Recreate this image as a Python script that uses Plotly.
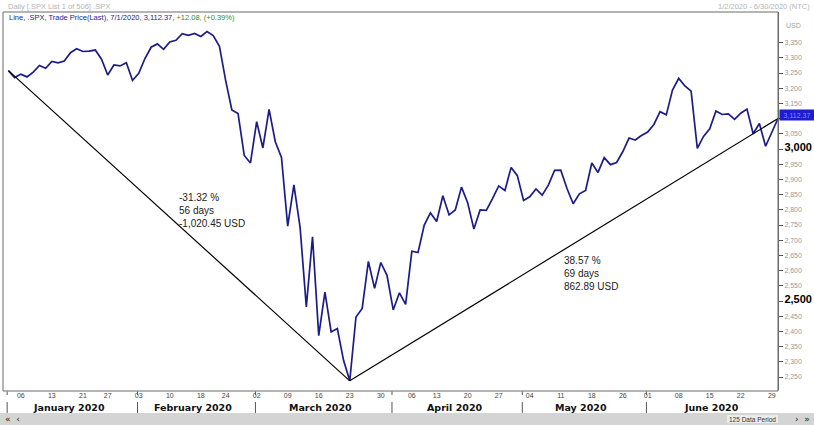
import numpy as np
import pandas as pd
import plotly.graph_objects as go

# ---------------- data ----------------
holidays = ["2020-01-20", "2020-02-17", "2020-04-10", "2020-05-25"]
dates = [d for d in pd.bdate_range("2020-01-02", "2020-06-30") if d.strftime("%Y-%m-%d") not in holidays]

jan_close = [3257.85, 3234.85, 3246.28, 3237.18, 3253.05, 3274.70, 3265.35, 3288.13, 3283.15, 3289.29,
             3316.81, 3329.62, 3320.79, 3321.75, 3325.54, 3295.47, 3243.63, 3276.24, 3273.40, 3283.66,
             3225.52]
feb_close = [3248.92, 3297.59, 3334.69, 3345.78, 3327.71, 3352.09, 3357.75, 3379.45, 3373.94, 3380.16,
             3370.29, 3386.15, 3373.23, 3337.75, 3225.89, 3128.21, 3116.39, 2978.76, 2954.22]
mar_close = [3090.23, 3003.37, 3130.12, 3023.94, 2972.37, 2746.56, 2882.23, 2741.38, 2480.64, 2711.02,
             2386.13, 2529.19, 2398.10, 2409.39, 2304.92, 2237.40, 2447.33, 2475.56, 2630.07, 2541.47,
             2626.65, 2584.59]
apr_close = [2470.50, 2526.90, 2488.65, 2663.68, 2659.41, 2749.98, 2789.82, 2761.63, 2846.06, 2783.36,
             2799.55, 2874.56, 2823.16, 2736.56, 2799.31, 2797.80, 2836.74, 2878.48, 2863.39, 2939.51,
             2912.43]
may_close = [2830.71, 2842.74, 2868.44, 2848.42, 2881.19, 2929.80, 2930.32, 2870.12, 2820.00, 2852.50,
             2863.70, 2953.91, 2922.94, 2971.61, 2948.51, 2955.45, 2991.77, 3036.13, 3029.73, 3044.31]
jun_close = [3055.73, 3080.82, 3122.87, 3112.35, 3193.93, 3232.39, 3207.18, 3190.14, 3002.10, 3041.31,
             3066.59, 3124.74, 3113.49, 3115.34, 3097.74, 3117.86, 3131.29, 3050.33, 3083.76, 3009.05,
             3053.24, 3100.29]
closes = jan_close + feb_close + mar_close + apr_close + may_close + jun_close

last_price = 3112.37
last_price_text = "3,112.37"
month_names = ["January 2020", "February 2020", "March 2020", "April 2020", "May 2020", "June 2020"]
y_tick_vals = list(range(2250, 3351, 50))
bold_ticks = [3000, 2500]
hidden_ticks = [3100]  # covered by the last-price marker
drop_text = "-31.32 %<br>56 days<br>-1,020.45 USD"
rise_text = "38.57 %<br>69 days<br>862.89 USD"

# ---------------- derived ----------------
W, H = 814, 425
def px(x): return x / W
def py(y): return 1 - y / H

idx = np.arange(len(closes))
i_low = int(np.argmin(closes))
i_end = len(closes) - 1

# weekly ticks: first trading day of each new week
day_ticks, day_text = [], []
for i in range(1, len(dates)):
    if dates[i].weekday() < dates[i - 1].weekday():
        day_ticks.append(i)
        day_text.append(dates[i].strftime("%d"))

# month boundaries
month_first = [0] + [i for i in range(1, len(dates)) if dates[i].month != dates[i - 1].month]
month_end = month_first[1:] + [len(dates)]

ytext = []
for v in y_tick_vals:
    if v in bold_ticks:
        ytext.append('<span style="font-size:11px;color:#000;font-weight:bold">%s</span>' % f"{v:,}")
    elif v in hidden_ticks:
        ytext.append("")
    else:
        ytext.append(f"{v:,}")

fig = go.Figure()
fig.add_trace(go.Scatter(x=idx, y=closes, mode="lines",
                         line=dict(color="#1c1c88", width=1.7), hoverinfo="skip"))
fig.add_trace(go.Scatter(x=[0, i_low], y=[closes[0], closes[i_low]], mode="lines",
                         line=dict(color="#000", width=1.2), hoverinfo="skip"))
fig.add_trace(go.Scatter(x=[i_low, i_end], y=[closes[i_low], closes[i_end]], mode="lines",
                         line=dict(color="#000", width=1.2), hoverinfo="skip"))

shapes = []
# plot frame
shapes.append(dict(type="rect", xref="paper", yref="paper", x0=px(3), x1=px(778), y0=py(391), y1=py(12),
                   line=dict(color="#6a6a6a", width=1)))
# month separators
for f in month_first:
    shapes.append(dict(type="line", xref="x", yref="paper", x0=f - 0.2, x1=f - 0.2, y0=py(395), y1=py(391.5),
                       line=dict(color="#555", width=1)))
    shapes.append(dict(type="line", xref="x", yref="paper", x0=f - 0.2, x1=f - 0.2, y0=py(413), y1=py(402),
                       line=dict(color="#555", width=1)))
# scrollbar
shapes.append(dict(type="rect", xref="paper", yref="paper", x0=0, x1=1, y0=0, y1=py(413),
                   line=dict(width=0), fillcolor="#d4d4d4", layer="below"))
shapes.append(dict(type="rect", xref="paper", yref="paper", x0=px(727), x1=px(778), y0=py(423), y1=py(415),
                   line=dict(width=0), fillcolor="#ececec", layer="below"))

ann = []
ann.append(dict(xref="paper", yref="paper", x=px(6), y=py(6), xanchor="left", yanchor="middle",
                text="Daily [.SPX List 1 of 506] .SPX", showarrow=False,
                font=dict(size=7.5, color="#b4b4b4", family="Liberation Sans")))
ann.append(dict(xref="paper", yref="paper", x=px(812), y=py(6), xanchor="right", yanchor="middle",
                text="1/2/2020 - 6/30/2020 (NTC)", showarrow=False,
                font=dict(size=7.5, color="#b4b4b4", family="Liberation Sans")))
ann.append(dict(xref="paper", yref="paper", x=px(7), y=py(17.5), xanchor="left", yanchor="middle",
                text='Line, .SPX, Trade Price(Last), 7/1/2020, 3,112.37, <span style="color:#2e8b2e">+12.08, (+0.39%)</span>',
                showarrow=False, font=dict(size=7.5, color="#1e1e8c", family="Liberation Sans")))
ann.append(dict(xref="paper", yref="paper", x=px(784), y=py(25), xanchor="left", yanchor="middle",
                text="USD", showarrow=False, font=dict(size=7, color="#a0a0a0", family="Liberation Sans")))
ann.append(dict(xref="paper", yref="paper", x=px(177), y=py(190), xanchor="left", yanchor="top",
                text=drop_text, showarrow=False, align="left",
                font=dict(size=10, color="#222", family="Liberation Sans")))
ann.append(dict(xref="paper", yref="paper", x=px(562), y=py(253), xanchor="left", yanchor="top",
                text=rise_text, showarrow=False, align="left",
                font=dict(size=10, color="#222", family="Liberation Sans")))
ann.append(dict(xref="paper", yref="y", x=px(778.5), y=last_price, xanchor="left", yanchor="middle",
                text=last_price_text, showarrow=False, bgcolor="#1c1cd0", width=34, height=10,
                borderpad=0, font=dict(size=7, color="#8c8cff", family="Liberation Sans")))
for name, f, e in zip(month_names, month_first, month_end):
    ann.append(dict(xref="x", yref="paper", x=(f + e) / 2 - 0.7, y=py(407.5), xanchor="center", yanchor="middle",
                    text=name, showarrow=False,
                    font=dict(size=9.5, color="#111", family="DejaVu Sans", weight="bold")))
ann.append(dict(xref="paper", yref="paper", x=px(3), y=py(419), xanchor="left", yanchor="middle",
                text="«  ‹", showarrow=False, font=dict(size=9, color="#222", family="DejaVu Sans")))
ann.append(dict(xref="paper", yref="paper", x=px(752), y=py(419), xanchor="center", yanchor="middle",
                text="125 Data Period", showarrow=False, font=dict(size=6.5, color="#333", family="Liberation Sans")))
ann.append(dict(xref="paper", yref="paper", x=px(812), y=py(419), xanchor="right", yanchor="middle",
                text="›  »", showarrow=False, font=dict(size=9, color="#222", family="DejaVu Sans")))

fig.update_layout(
    width=W, height=H, margin=dict(l=0, r=0, t=0, b=0),
    paper_bgcolor="white", plot_bgcolor="white", showlegend=False,
    font=dict(family="Liberation Sans"),
    shapes=shapes, annotations=ann,
    xaxis=dict(domain=[px(5), px(778)], range=[-0.55, 124.0], showgrid=False, zeroline=False,
               showline=False, tickmode="array", tickvals=day_ticks, ticktext=day_text,
               ticks="", ticklen=0, tickfont=dict(size=7, color="#444")),
    yaxis=dict(domain=[py(390), py(12)], range=[2207.24, 3450.66], side="right", showgrid=False,
               zeroline=False, showline=True, linecolor="#6a6a6a", tickmode="array",
               tickvals=y_tick_vals, ticktext=ytext, ticks="outside", ticklen=4, tickcolor="#555",
               tickfont=dict(size=7, color="#9a9a9a")),
)
fig.write_html("out.html", config={"displayModeBar": False},
               post_script="document.body.style.margin='0px';document.body.style.overflow='hidden';")
